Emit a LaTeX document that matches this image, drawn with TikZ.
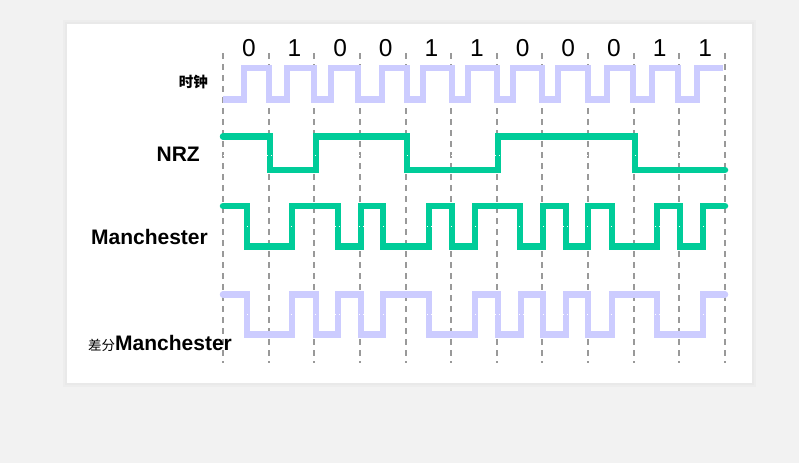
\documentclass[tikz,border=0pt]{standalone}
\usepackage{fontspec}
\setmainfont{Liberation Sans}
\newfontfamily\cjk{Noto Sans CJK SC}

\definecolor{pagegray}{HTML}{F2F2F2}
\definecolor{shadegray}{HTML}{E9E9E9}
\definecolor{clockblue}{HTML}{CCCCFF}
\definecolor{signalgreen}{HTML}{00CC99}
\definecolor{gridgray}{HTML}{999999}

\tikzset{
  wave/.style={line width=6.5pt,line join=miter,line cap=round},
  gridline/.style={gridgray,line width=2pt,dash pattern=on 6pt off 5pt},
  midline/.style={white,line width=1pt,dash pattern=on 1pt off 3pt},
  bitlabel/.style={font=\fontsize{24.5}{24.5}\selectfont,anchor=base,inner sep=0pt},
  siglabel/.style={font=\bfseries\fontsize{21}{21}\selectfont,anchor=base east,inner sep=0pt}
}

\begin{document}
\begin{tikzpicture}[x=1pt,y=-1pt]
      % page and panel
      \fill [pagegray] (0,0) rectangle (799,463);
      \useasboundingbox (0,0) rectangle (799,463);
      \fill [shadegray!60!pagegray] (63,20) rectangle (756,387);
      \fill [shadegray] (65,22) rectangle (754,385);
      \fill [white] (67,24) rectangle (752,383);

      % bit cells
      \foreach \i in {0,...,11}
        \draw [gridline] ({223+45.64*\i},53) -- ({223+45.64*\i},363);
      \foreach \b [count=\i] in {0,1,0,0,1,1,0,0,0,1,1}
        \node [bitlabel] (bit\i) at ({223+45.64*(\i-0.5)+3},56) {\b};

      % labels
      \node [siglabel,font=\cjk\bfseries\fontsize{14.5}{14.5}\selectfont] (clk) at (208,87) {时钟};
      \node [siglabel] (nrz) at (200,161.5) {NRZ};
      \node [siglabel] (man) at (208,244) {Manchester};
      \node [anchor=base west,inner sep=0pt] (diff) at (88,350)
        {{\cjk\fontsize{13.5}{13.5}\selectfont 差分}{\bfseries\fontsize{21}{21}\selectfont Manchester}};

      % clock
      \draw [wave,clockblue,line width=6.5pt,line cap=butt]
        (223,99.5) -| (244,68) -| (269,99.5) -| (287,68) -| (314,99.5)
        -| (331,68) -| (358,99.5) -| (382,68) -| (407,99.5) -| (423,68)
        -| (452,99.5) -| (468,68) -| (497,99.5) -| (513,68) -| (542,99.5)
        -| (558,68) -| (588,99.5) -| (607,68) -| (633,99.5) -| (652,68)
        -| (678,99.5) -| (697,68) -- (723,68);

      % NRZ
      \draw [wave,signalgreen]
        (223,136.5) -| (270,170) -| (316,136.5) -| (407,170) -| (498,136.5)
        -| (635,170) -- (725,170);
      \draw [midline] (223,155) -- (725,155);

      % Manchester
      \draw [wave,signalgreen]
        (223,206) -| (247,246.5) -| (292,206) -| (338,246.5) -| (361,206)
        -| (383,246.5) -| (429,206) -| (452,246.5) -| (475,206) -| (520,246.5)
        -| (543,206) -| (566,246.5) -| (588,206) -| (612,246.5) -| (657,206)
        -| (680,246.5) -| (703,206) -- (725,206);
      \draw [midline] (223,226) -- (725,226);

      % differential Manchester
      \draw [wave,clockblue]
        (223,294.5) -| (247,334.5) -| (292,294.5) -| (316,334.5) -| (338,294.5)
        -| (361,334.5) -| (383,294.5) -| (429,334.5) -| (475,294.5) -| (498,334.5)
        -| (521,294.5) -| (543,334.5) -| (566,294.5) -| (588,334.5) -| (612,294.5)
        -| (657,334.5) -| (703,294.5) -- (725,294.5);
      \draw [midline] (223,314) -- (725,314);
\end{tikzpicture}
\end{document}
